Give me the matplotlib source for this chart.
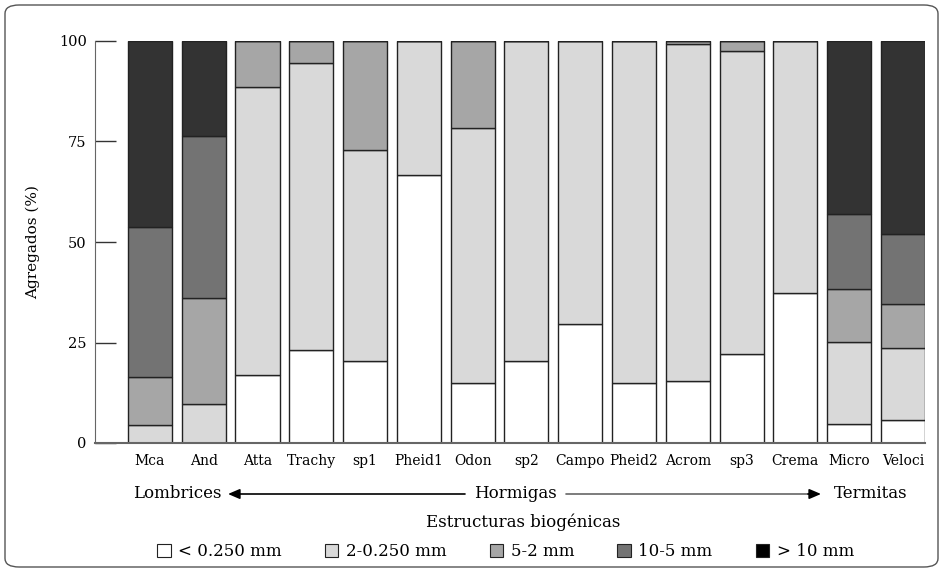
import numpy as np
import matplotlib
matplotlib.use('Agg')
import matplotlib.pyplot as plt
from matplotlib.patches import FancyBboxPatch, Patch

# data (% of aggregates per size class)
especies = ['Mca', 'And', 'Atta', 'Trachy', 'sp1', 'Pheid1', 'Odon', 'sp2',
            'Campo', 'Pheid2', 'Acrom', 'sp3', 'Crema', 'Micro', 'Veloci']
menor_025 = [0.0, 0.0, 16.9, 23.1, 20.5, 66.7, 14.9, 20.5, 29.7, 14.9, 15.4, 22.1, 37.2, 4.8, 5.7]
de2_025 = [4.4, 9.7, 71.6, 71.5, 52.4, 33.3, 63.4, 79.5, 70.3, 85.1, 83.8, 75.5, 62.8, 20.3, 17.9]
de5_2 = [11.9, 26.4, 11.5, 5.4, 27.1, 0.0, 21.7, 0.0, 0.0, 0.0, 0.8, 2.4, 0.0, 13.1, 11.1]
de10_5 = [37.5, 40.2, 0.0, 0.0, 0.0, 0.0, 0.0, 0.0, 0.0, 0.0, 0.0, 0.0, 0.0, 18.8, 17.2]
mayor_10 = [46.2, 23.7, 0.0, 0.0, 0.0, 0.0, 0.0, 0.0, 0.0, 0.0, 0.0, 0.0, 0.0, 43.0, 48.1]

series = [menor_025, de2_025, de5_2, de10_5, mayor_10]
etiquetas = ['< 0.250 mm', '2-0.250 mm', '5-2 mm', '10-5 mm', '> 10 mm']
colores = ['#ffffff', '#d9d9d9', '#a6a6a6', '#737373', '#333333']
colores_leyenda = ['#ffffff', '#d9d9d9', '#a6a6a6', '#737373', '#000000']
yticks = [0, 25, 50, 75, 100]

W, H = 943, 572
plt.rcParams['font.family'] = ['DejaVu Serif']

fig = plt.figure(figsize=(W / 100, H / 100), dpi=100)
ax = fig.add_axes([95 / W, 1 - 443 / H, (925 - 95) / W, (443 - 41) / H])

x = np.arange(len(especies))
base = np.zeros(len(especies))
for vals, col in zip(series, colores):
    vals = np.array(vals)
    ax.bar(x, vals, bottom=base, width=0.82, color=col, edgecolor='#222222',
           linewidth=1.0, zorder=2)
    base += vals

ax.set_xlim(-1.02, 14.41)
ax.set_ylim(0, 100)
ax.set_yticks(yticks)
ax.set_xticks(x)
ax.set_xticklabels(especies, fontsize=10)
ax.tick_params(axis='y', direction='in', length=15, width=1, colors='#333333',
               labelcolor='black', labelsize=10.5, pad=6)
ax.tick_params(axis='x', length=0, pad=8)
for s in ['top', 'right']:
    ax.spines[s].set_visible(False)
ax.spines['left'].set_color('#666666')
ax.spines['bottom'].set_color('#666666')
ax.spines['bottom'].set_linewidth(1.5)
ax.spines['bottom'].set_zorder(3)

fig.text(33 / W, 1 - 242 / H, 'Agregados (%)', rotation=90, ha='center',
         va='center', fontsize=11)


def fp(px, py):
    return (px, H - py)


# group labels with arrows
fig.text(177 / W, 1 - 494 / H, 'Lombrices', ha='center', va='center', fontsize=12)
fig.text(515 / W, 1 - 494 / H, 'Hormigas', ha='center', va='center', fontsize=12)
fig.text(871 / W, 1 - 494 / H, 'Termitas', ha='center', va='center', fontsize=12)
fig.text(523 / W, 1 - 522 / H, 'Estructuras biogénicas', ha='center', va='center',
         fontsize=12)
flecha = dict(arrowstyle='-|>,head_length=0.7,head_width=0.3', lw=1.2,
              shrinkA=0, shrinkB=0)
ax.annotate('', xy=fp(228, 494), xytext=fp(465, 494), xycoords='figure pixels',
            textcoords='figure pixels', arrowprops=dict(flecha, color='black'))
# right arrow: gray shaft, black head
ax.annotate('', xy=fp(812, 494), xytext=fp(566, 494), xycoords='figure pixels',
            textcoords='figure pixels',
            arrowprops=dict(arrowstyle='-', color='#666666', lw=1.2,
                            shrinkA=0, shrinkB=0))
ax.annotate('', xy=fp(821, 494), xytext=fp(808, 494), xycoords='figure pixels',
            textcoords='figure pixels', arrowprops=dict(flecha, color='black'))

handles = [Patch(facecolor=c, edgecolor='#222222', linewidth=0.8) for c in colores_leyenda]
fig.legend(handles, etiquetas, loc='center', bbox_to_anchor=(505.5 / W, 1 - 552 / H),
           ncol=5, frameon=False, fontsize=12, handlelength=0.8, handleheight=0.8,
           handletextpad=0.45, columnspacing=2.6, borderpad=0)

# rounded outer frame
marco = FancyBboxPatch((5 / W, 5 / H), (W - 10) / W, (H - 10) / H,
                       boxstyle='round,pad=0,rounding_size=0.015',
                       transform=fig.transFigure, facecolor='none',
                       edgecolor='#555555', linewidth=1.0)
fig.patches.append(marco)

fig.savefig('out.png', dpi=100)
